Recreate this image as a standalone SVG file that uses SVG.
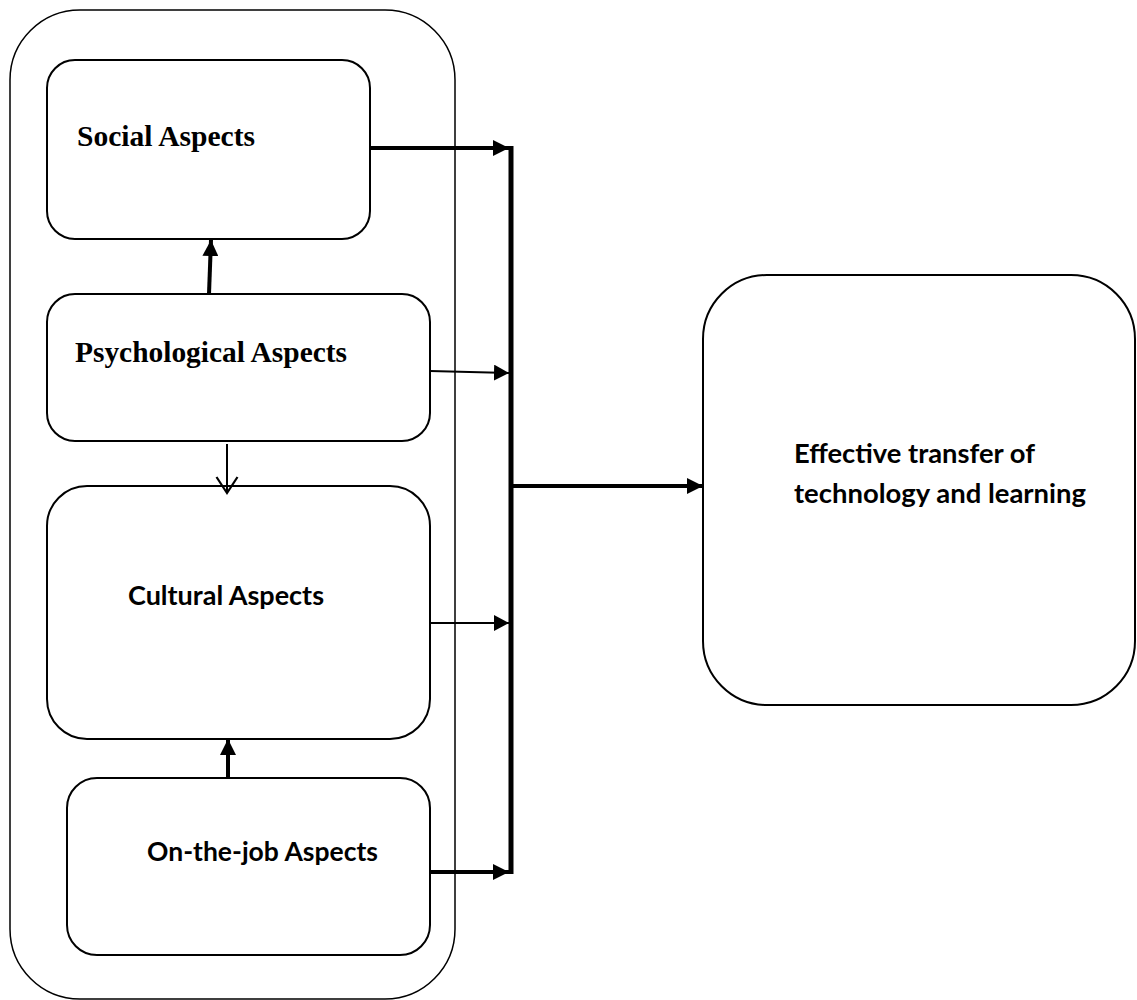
<svg xmlns="http://www.w3.org/2000/svg" width="1137" height="1000" viewBox="0 0 1137 1000">
<style>
.box{fill:#fff;stroke:#000;stroke-width:2}
.outer{fill:#fff;stroke:#000;stroke-width:1.5}
.serif{font-family:"Liberation Serif","Times New Roman",serif;font-weight:bold;font-size:30px;fill:#000}
.sans{font-family:Lato,"Noto Sans",sans-serif;font-weight:bold;font-size:26px;fill:#000}
.thick{stroke:#000;stroke-width:4;fill:none}
.thin{stroke:#000;stroke-width:2;fill:none}
</style>
<defs>
<marker id="headThick" markerUnits="userSpaceOnUse" markerWidth="16" markerHeight="16" viewBox="0 0 16 16" refX="16" refY="8" orient="auto">
<path d="M0,0 L16,8 L0,16 Z" fill="#000"/>
</marker>
<marker id="headThin" markerUnits="userSpaceOnUse" markerWidth="15" markerHeight="16" viewBox="0 0 15 16" refX="15" refY="8" orient="auto">
<path d="M0,0 L15,8 L0,16 Z" fill="#000"/>
</marker>
<marker id="headOpen" markerUnits="userSpaceOnUse" markerWidth="20" markerHeight="24" viewBox="0 0 20 24" refX="17" refY="12" orient="auto">
<path d="M1,1.5 L17,12 L1,22.5" fill="none" stroke="#000" stroke-width="2.2"/>
</marker>
</defs>

<g id="outer-group">
<rect class="outer" x="10" y="10" width="445" height="989" rx="70" ry="70"/>
</g>

<g id="social">
<rect class="box" x="47" y="60" width="323" height="179" rx="28" ry="28"/>
<text class="serif" x="77" y="146" textLength="178" lengthAdjust="spacingAndGlyphs">Social Aspects</text>
</g>

<g id="psychological">
<rect class="box" x="47" y="294" width="383" height="147" rx="28" ry="28"/>
<text class="serif" x="75" y="362" textLength="272" lengthAdjust="spacingAndGlyphs">Psychological Aspects</text>
</g>

<g id="cultural">
<rect class="box" x="47" y="486" width="383" height="253" rx="40" ry="40"/>
<text class="sans" x="128" y="605" textLength="196" lengthAdjust="spacingAndGlyphs">Cultural Aspects</text>
</g>

<g id="onthejob">
<rect class="box" x="67" y="778" width="363" height="177" rx="30" ry="30"/>
<text class="sans" x="147" y="861" textLength="231" lengthAdjust="spacingAndGlyphs">On-the-job Aspects</text>
</g>

<g id="effective">
<rect class="box" x="703" y="275" width="432" height="430" rx="64" ry="64"/>
<text class="sans" x="794" y="463" textLength="241" lengthAdjust="spacingAndGlyphs">Effective transfer of</text>
<text class="sans" x="794" y="503" textLength="292" lengthAdjust="spacingAndGlyphs">technology and learning</text>
</g>

<g id="connectors">
<line class="thick" x1="209" y1="294" x2="211" y2="240" marker-end="url(#headThick)"/>
<line class="thin" x1="227" y1="444" x2="227" y2="493" marker-end="url(#headOpen)"/>
<line class="thick" x1="228" y1="778" x2="228" y2="739" marker-end="url(#headThick)"/>
<line class="thick" x1="370" y1="148" x2="509" y2="148" marker-end="url(#headThick)"/>
<line class="thin" x1="430" y1="371" x2="509" y2="373" marker-end="url(#headThin)"/>
<line class="thin" x1="430" y1="623" x2="509" y2="623" marker-end="url(#headThin)"/>
<line class="thick" x1="430" y1="872" x2="509" y2="872" marker-end="url(#headThick)"/>
<line x1="511" y1="146" x2="511" y2="874" stroke="#000" stroke-width="5"/>
<line class="thick" x1="511" y1="486" x2="703" y2="486" marker-end="url(#headThick)"/>
</g>
</svg>
